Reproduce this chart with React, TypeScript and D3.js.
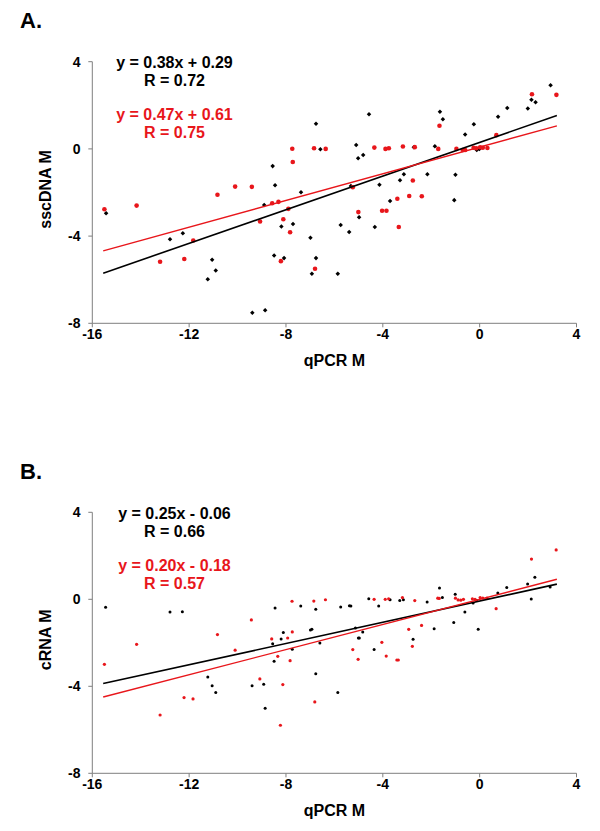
import React from "react";
import * as d3 from "d3";

// ---- data ----
const xTicks = [-16, -12, -8, -4, 0, 4];
const yTicks = [-8, -4, 0, 4];

// Panel A (sscDNA M vs qPCR M)
const aBlack: [number, number][] = [
  [-15.43, -2.95], [-12.79, -4.14], [-12.26, -3.87], [-11.23, -5.98], [-11.05, -5.09],
  [-10.9, -5.58], [-9.39, -7.52], [-8.86, -7.4], [-8.9, -2.57], [-8.55, -0.79],
  [-8.45, -1.67], [-8.49, -4.89], [-8.19, -3.56], [-8.08, -5.01], [-7.71, -3.44],
  [-7.38, -1.99], [-6.99, -4.08], [-6.93, -5.73], [-6.76, -5.01], [-6.76, 1.15],
  [-6.58, -0.02], [-5.86, -5.73], [-5.74, -3.49], [-5.39, -3.81], [-5.32, -1.7],
  [-5.1, 0.18], [-5.02, -0.43], [-4.81, -0.28], [-4.98, -3.13], [-4.57, 1.59],
  [-4.33, -3.58], [-4.14, -1.64], [-3.7, -2.39], [-3.29, -1.44], [-3.13, -1.16],
  [-2.72, 0.08], [-2.16, -1.16], [-1.85, 0.12], [-1.64, 1.7], [-1.52, 1.36],
  [-1.0, -1.19], [-1.05, -2.35], [-0.6, 0.66], [-0.24, 1.13], [-0.12, -0.05],
  [-0.01, 0.0], [0.76, 1.47], [1.14, 1.88], [1.99, 1.85], [2.14, 2.25],
  [2.31, 2.14], [2.93, 2.92],
];
const aRed: [number, number][] = [
  [-15.5, -2.77], [-14.17, -2.6], [-13.2, -5.18], [-12.2, -5.05], [-11.83, -4.2],
  [-10.83, -2.1], [-10.1, -1.73], [-9.41, -1.74], [-9.07, -3.33], [-8.57, -2.49],
  [-8.31, -2.43], [-8.11, -3.23], [-8.21, -5.15], [-7.9, -2.75], [-7.83, -3.82],
  [-7.74, 0.01], [-7.72, -0.6], [-6.84, 0.03], [-6.8, -5.5], [-6.36, 0.0],
  [-5.24, -1.76], [-5.01, -2.9], [-4.35, 0.06], [-4.03, -2.84], [-3.85, -2.84],
  [-3.89, 0.0], [-3.75, 0.03], [-3.4, -2.29], [-3.34, -3.58], [-3.17, 0.11],
  [-2.91, -2.16], [-2.76, -1.45], [-2.68, 0.08], [-2.39, -2.17], [-1.71, 0.0],
  [-1.66, 1.06], [-0.96, 0.0], [-0.7, -0.05], [-0.6, -0.05], [-0.25, 0.05],
  [-0.14, 0.03], [0.02, 0.07], [0.13, 0.05], [0.32, 0.04], [0.69, 0.63],
  [2.16, 2.51], [3.17, 2.48],
];

// Panel B (cRNA M vs qPCR M)
const bBlack: [number, number][] = [
  [-15.45, -0.37], [-12.79, -0.58], [-12.28, -0.57], [-11.23, -3.57], [-11.05, -3.98],
  [-10.9, -4.29], [-9.4, -3.97], [-8.92, -3.91], [-8.86, -5.01], [-8.45, -0.4],
  [-8.55, -2.04], [-8.49, -2.85], [-8.2, -1.82], [-8.11, -1.53], [-7.74, -2.3],
  [-7.39, -0.31], [-6.99, -1.41], [-6.93, -1.38], [-6.77, -0.46], [-6.77, -3.42],
  [-6.6, -2.01], [-5.86, -4.28], [-5.74, -0.35], [-5.38, -0.3], [-5.32, -0.31],
  [-5.13, -1.32], [-5.01, -1.78], [-4.97, -1.78], [-4.83, -1.5], [-4.58, 0.02],
  [-4.36, -2.31], [-4.17, -0.31], [-3.7, -0.02], [-3.3, -0.05], [-3.15, -0.02],
  [-2.75, -1.84], [-2.17, -0.12], [-1.88, -1.35], [-1.66, 0.52], [-1.54, 0.08],
  [-1.07, -1.07], [-1.01, 0.23], [-0.61, -0.58], [-0.27, -0.17], [-0.06, -1.38],
  [-0.12, -0.05], [0.75, 0.29], [1.12, 0.54], [1.98, 0.7], [2.13, 0.01],
  [2.28, 1.01], [2.91, 0.57],
];
const bRed: [number, number][] = [
  [-15.5, -2.99], [-14.17, -2.07], [-13.2, -5.32], [-12.21, -4.52], [-11.84, -4.58],
  [-10.83, -1.62], [-10.1, -2.34], [-9.43, -0.95], [-9.08, -3.66], [-8.59, -1.82],
  [-8.34, -2.62], [-8.23, -5.79], [-8.13, -3.92], [-7.93, -1.78], [-7.83, -2.82],
  [-7.75, -0.09], [-7.74, -1.5], [-6.85, -0.08], [-6.81, -4.72], [-6.37, -0.02],
  [-5.24, -2.31], [-5.02, -2.76], [-4.36, 0.0], [-4.04, -1.98], [-3.9, 0.0],
  [-3.76, 0.02], [-3.86, -2.61], [-3.42, -2.79], [-3.36, -2.79], [-3.19, 0.08],
  [-2.93, -1.38], [-2.78, -2.16], [-2.68, -0.06], [-2.4, -1.2], [-1.73, 0.05],
  [-1.67, 0.04], [-1.0, 0.05], [-0.89, -0.03], [-0.78, -0.04], [-0.67, 0.0],
  [-0.3, 0.02], [-0.19, 0.0], [0.02, 0.08], [0.13, 0.05], [0.3, 0.05],
  [0.68, -0.43], [2.14, 1.85], [3.16, 2.27],
];

// fitted lines as drawn: [slope, intercept, xStart, xEnd]
const aBlackFit = [0.386, 0.3, -15.55, 3.19];
const aRedFit = [0.306, 0.08, -15.55, 3.19];
const bBlackFit = [0.244, -0.08, -15.55, 3.19];
const bRedFit = [0.289, 0.0, -15.55, 3.19];

const aLabels = ["y = 0.38x + 0.29", "R = 0.72", "y = 0.47x + 0.61", "R = 0.75"];
const bLabels = ["y = 0.25x - 0.06", "R = 0.66", "y = 0.20x - 0.18", "R = 0.57"];

const FONT = "'Liberation Sans', Arial, Helvetica, sans-serif";
const RED = "#e8161b";
const AXIS = "#7f7f7f";

const x = d3.scaleLinear().domain([-16, 4]).range([92.3, 576.5]);

type PanelProps = {
  top: number; // pixel of y=4
  bottom: number; // pixel of y=-8
  letter: string;
  letterY: number;
  yTitle: string;
  black: [number, number][];
  red: [number, number][];
  blackFit: number[];
  redFit: number[];
  labels: string[];
  small: boolean;
};

function Panel(p: PanelProps) {
  const y = d3.scaleLinear().domain([-8, 4]).range([p.bottom, p.top]);
  const fitPath = (f: number[]) => {
    const pts: [number, number][] = [f[2], f[3]].map((xv) => [xv, f[0] * xv + f[1]]);
    return d3.line<[number, number]>().x((d) => x(d[0])).y((d) => y(d[1]))(pts) || "";
  };
  const symType = (d3 as any).symbolDiamond2 || d3.symbolDiamond;
  const diamond = d3.symbol().type(symType).size(13)() || "";
  const axisY = y(-8);
  const cx = 174.5;
  const eqSize = 16;
  return (
    <g>
      <text x={20} y={p.letterY} fontFamily={FONT} fontWeight="bold" fontSize={22}>
        {p.letter}
      </text>
      {/* axes */}
      <line x1={x(-16)} x2={x(-16)} y1={y(4)} y2={y(-8)} stroke={AXIS} strokeWidth={1} />
      <line x1={x(-16)} x2={x(4)} y1={axisY} y2={axisY} stroke={AXIS} strokeWidth={1} />
      {yTicks.map((t) => (
        <g key={"y" + t}>
          <line x1={x(-16) - 4} x2={x(-16)} y1={y(t)} y2={y(t)} stroke={AXIS} />
          <text
            x={80.5}
            y={y(t) + 5}
            textAnchor="end"
            fontFamily={FONT}
            fontWeight="bold"
            fontSize={14}
          >
            {t}
          </text>
        </g>
      ))}
      {xTicks.map((t) => (
        <g key={"x" + t}>
          <line x1={x(t)} x2={x(t)} y1={axisY} y2={axisY + 4} stroke={AXIS} />
          <text
            x={x(t)}
            y={axisY + 16}
            textAnchor="middle"
            fontFamily={FONT}
            fontWeight="bold"
            fontSize={14}
          >
            {t}
          </text>
        </g>
      ))}
      <text
        x={(x(-16) + x(4)) / 2}
        y={axisY + 43}
        textAnchor="middle"
        fontFamily={FONT}
        fontWeight="bold"
        fontSize={16}
      >
        qPCR M
      </text>
      <text
        transform={`translate(51, ${(y(4) + y(-8)) / 2 - 3}) rotate(-90)`}
        textAnchor="middle"
        fontFamily={FONT}
        fontWeight="bold"
        fontSize={16}
      >
        {p.yTitle}
      </text>
      {/* points */}
      {p.black.map((d, i) =>
        p.small ? (
          <circle key={"b" + i} cx={x(d[0])} cy={y(d[1])} r={1.5} fill="#000" />
        ) : (
          <path key={"b" + i} d={diamond} transform={`translate(${x(d[0])},${y(d[1])})`} fill="#000" />
        )
      )}
      {p.red.map((d, i) => (
        <circle key={"r" + i} cx={x(d[0])} cy={y(d[1])} r={p.small ? 1.6 : 2.3} fill={RED} />
      ))}
      {/* fits */}
      <path d={fitPath(p.blackFit)} stroke="#000" strokeWidth={1.6} fill="none" />
      <path d={fitPath(p.redFit)} stroke={RED} strokeWidth={1.4} fill="none" />
      {/* annotations */}
      <text x={cx} y={p.top + 6.5} textAnchor="middle" fontFamily={FONT} fontWeight="bold" fontSize={eqSize}>
        {p.labels[0]}
      </text>
      <text x={cx} y={p.top + 24.5} textAnchor="middle" fontFamily={FONT} fontWeight="bold" fontSize={eqSize}>
        {p.labels[1]}
      </text>
      <text x={cx} y={p.top + 58.5} textAnchor="middle" fontFamily={FONT} fontWeight="bold" fontSize={eqSize} fill={RED}>
        {p.labels[2]}
      </text>
      <text x={cx} y={p.top + 76.5} textAnchor="middle" fontFamily={FONT} fontWeight="bold" fontSize={eqSize} fill={RED}>
        {p.labels[3]}
      </text>
    </g>
  );
}

export default function App() {
  return (
    <svg
      width={600}
      height={831}
      style={{ position: "absolute", left: 0, top: 0, background: "#fff" }}
    >
      <rect width={600} height={831} fill="#fff" />
      <Panel
        top={61.7}
        bottom={323.3}
        letter="A."
        letterY={27.5}
        yTitle="sscDNA M"
        black={aBlack}
        red={aRed}
        blackFit={aBlackFit}
        redFit={aRedFit}
        labels={aLabels}
        small={false}
      />
      <Panel
        top={512.3}
        bottom={773.3}
        letter="B."
        letterY={478.5}
        yTitle="cRNA M"
        black={bBlack}
        red={bRed}
        blackFit={bBlackFit}
        redFit={bRedFit}
        labels={bLabels}
        small={true}
      />
    </svg>
  );
}
